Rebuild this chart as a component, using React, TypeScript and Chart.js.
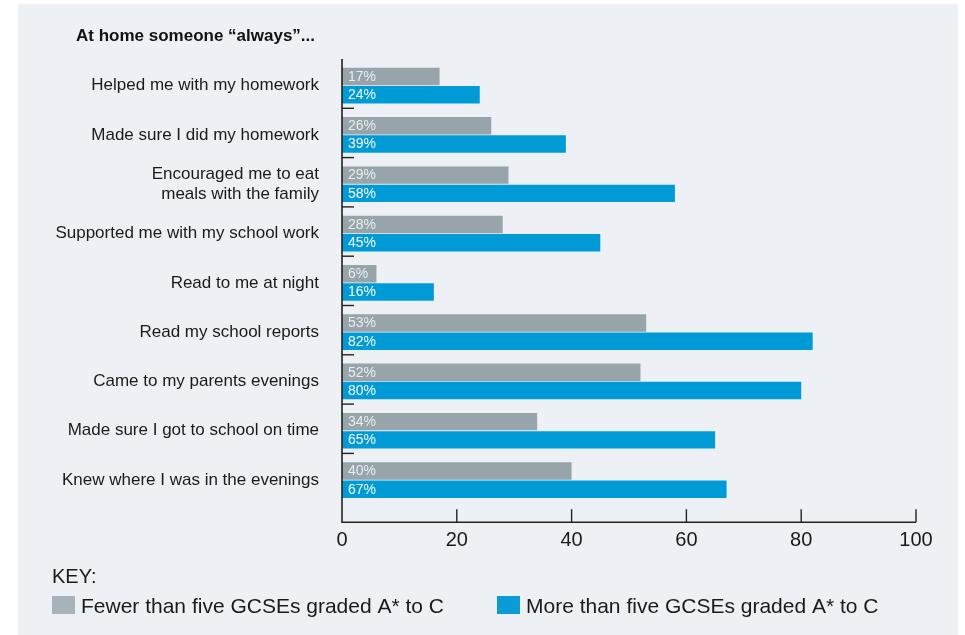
import React, { useEffect, useRef } from 'react';
import { Chart, registerables } from 'chart.js';

Chart.register(...registerables);

const categories: (string | string[])[] = [
  'Helped me with my homework',
  'Made sure I did my homework',
  ['Encouraged me to eat', 'meals with the family'],
  'Supported me with my school work',
  'Read to me at night',
  'Read my school reports',
  'Came to my parents evenings',
  'Made sure I got to school on time',
  'Knew where I was in the evenings',
];
const fewerValues = [17, 26, 29, 28, 6, 53, 52, 34, 40];
const moreValues = [24, 39, 58, 45, 16, 82, 80, 65, 67];
const seriesNames = ['Fewer than five GCSEs graded A* to C', 'More than five GCSEs graded A* to C'];
const seriesColors = ['#97a4aa', '#009bd7'];
const legendColors = ['#a7b3b9', '#0b9bd6'];
const xTicks = [0, 20, 40, 60, 80, 100];
const titleText = 'At home someone “always”...';
const keyText = 'KEY:';

const FONT = '"Liberation Sans", Arial, Helvetica, sans-serif';
const TEXT = '#1a1a1a';

const decorPlugin = {
  id: 'decor',
  beforeDraw(chart: any) {
    const ctx = chart.ctx;
    ctx.save();
    ctx.fillStyle = '#edf1f5';
    ctx.fillRect(18, 4, 940, 631);
    ctx.restore();
  },
  afterDatasetsDraw(chart: any) {
    const ctx = chart.ctx;
    ctx.save();
    ctx.font = `14px ${FONT}`;
    ctx.textAlign = 'left';
    ctx.textBaseline = 'middle';
    chart.data.datasets.forEach((ds: any, di: number) => {
      const meta = chart.getDatasetMeta(di);
      meta.data.forEach((bar: any, i: number) => {
        const p = bar.getProps(['base', 'y'], true);
        ctx.fillStyle = di === 0 ? '#e9eef0' : '#f7fbfd';
        ctx.fillText(`${ds.data[i]}%`, p.base + 6, p.y + 0.5);
      });
    });
    ctx.restore();
  },
  afterDraw(chart: any) {
    const ctx = chart.ctx;
    const { left, top, bottom } = chart.chartArea;
    const xs = chart.scales.x;
    const ys = chart.scales.y;
    const axisY = bottom + 17.5;
    ctx.save();
    ctx.strokeStyle = '#222';
    ctx.lineWidth = 1.6;
    ctx.beginPath();
    ctx.moveTo(left, top - 2);
    ctx.lineTo(left, axisY);
    ctx.lineTo(xs.getPixelForValue(100), axisY);
    ctx.stroke();
    ctx.lineWidth = 1.4;
    xTicks.forEach((v) => {
      if (v === 0) return;
      const px = xs.getPixelForValue(v);
      ctx.beginPath();
      ctx.moveTo(px, axisY);
      ctx.lineTo(px, axisY - 13);
      ctx.stroke();
    });
    for (let i = 1; i < categories.length; i++) {
      const py = (ys.getPixelForValue(i - 1) + ys.getPixelForValue(i)) / 2 - 2;
      ctx.beginPath();
      ctx.moveTo(left, py);
      ctx.lineTo(left + 12, py);
      ctx.stroke();
    }
    ctx.fillStyle = '#111';
    ctx.font = `bold 17px ${FONT}`;
    ctx.textAlign = 'left';
    ctx.textBaseline = 'alphabetic';
    ctx.fillText(titleText, 76, 41);
    ctx.fillStyle = TEXT;
    ctx.font = `20px ${FONT}`;
    ctx.fillText(keyText, 52, 583);
    ctx.font = `21px ${FONT}`;
    const boxX = [52, 497];
    chart.data.datasets.forEach((ds: any, di: number) => {
      ctx.fillStyle = legendColors[di];
      ctx.fillRect(boxX[di], 596, 23, 18);
      ctx.fillStyle = TEXT;
      ctx.fillText(ds.label, boxX[di] + 29, 613);
    });
    ctx.restore();
  },
};

export default function App() {
  const ref = useRef<HTMLCanvasElement | null>(null);
  useEffect(() => {
    if (!ref.current) return;
    const chart = new Chart(ref.current, {
      type: 'bar',
      data: {
        labels: categories,
        datasets: [
          {
            label: seriesNames[0],
            data: fewerValues,
            backgroundColor: seriesColors[0],
            categoryPercentage: 0.74,
            barPercentage: 0.955,
          },
          {
            label: seriesNames[1],
            data: moreValues,
            backgroundColor: seriesColors[1],
            categoryPercentage: 0.74,
            barPercentage: 0.955,
          },
        ],
      },
      options: {
        indexAxis: 'y',
        responsive: false,
        animation: false,
        layout: { padding: { left: 0, top: 61, right: 49, bottom: 80.3 } },
        plugins: {
          legend: { display: false },
          title: { display: false },
          tooltip: { enabled: false },
        },
        scales: {
          x: {
            type: 'linear',
            min: 0,
            max: 100,
            afterFit: (s: any) => {
              s.height = 50;
            },
            afterBuildTicks: (s: any) => {
              s.ticks = xTicks.map((v) => ({ value: v }));
            },
            grid: { display: false, drawTicks: false },
            border: { display: false },
            ticks: {
              padding: 24,
              color: TEXT,
              font: { family: FONT, size: 20 },
              maxRotation: 0,
            },
          },
          y: {
            type: 'category',
            afterFit: (s: any) => {
              s.width = 342;
            },
            grid: { display: false, drawTicks: false },
            border: { display: false },
            ticks: {
              padding: 23,
              color: TEXT,
              font: { family: FONT, size: 17, lineHeight: 1.15 },
              autoSkip: false,
            },
          },
        },
      },
      plugins: [decorPlugin],
    });
    return () => chart.destroy();
  }, []);
  return (
    <div style={{ position: 'absolute', left: 0, top: 0, width: 965, height: 635, background: '#ffffff' }}>
      <canvas ref={ref} width={965} height={635} style={{ display: 'block' }} />
    </div>
  );
}
